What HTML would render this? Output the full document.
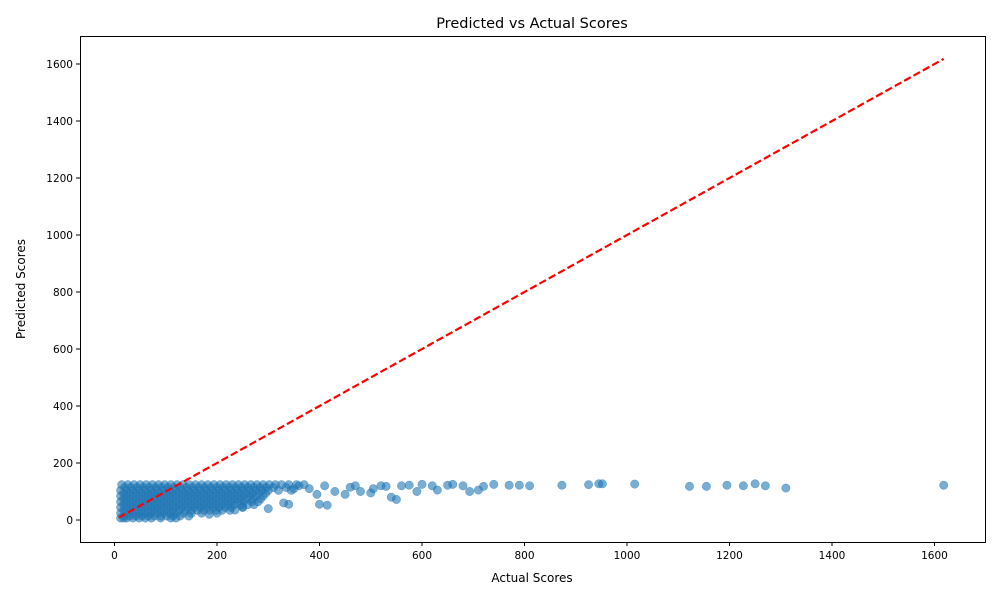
<!DOCTYPE html>
<html><head><meta charset="utf-8"><style>
body{margin:0;background:#fff;}
svg text{font-family:"DejaVu Sans","Liberation Sans",sans-serif;fill:#000;}
</style></head><body>
<svg id="chart" width="1000" height="600">
<rect x="0" y="0" width="1000" height="600" fill="#fff"/>
<text x="532" y="28" font-size="14.5" text-anchor="middle">Predicted vs Actual Scores</text>
<text x="532" y="582" font-size="12" text-anchor="middle">Actual Scores</text>
<text x="25" y="289" font-size="12" text-anchor="middle" transform="rotate(-90 25 289)">Predicted Scores</text>
<g id="ticks"></g>
<g id="points"></g>
<g id="line"></g>
<rect x="80.5" y="36.5" width="905" height="506" fill="none" stroke="#000" stroke-width="1"/>
</svg>
<script>
const xTicks=[0,200,400,600,800,1000,1200,1400,1600];
const yTicks=[0,200,400,600,800,1000,1200,1400,1600];
const rowPred=[124,114,104,94,84,74,64,54,44,34,24,14,7];
const rowActuals=[
[14,26,38,50,62,74,86,98,110,122,134,146,158,170,182,194,206,218,230,242,254,266,278,290,302,314,326,340,355,370],
[20,32,44,56,68,80,92,104,116,128,140,152,164,176,188,200,212,224,236,248,260,272,284,296,310,335],
[12,24,36,48,60,72,84,96,108,120,132,144,156,168,180,192,204,216,228,240,252,264,276,288,300,320,345],
[18,30,42,54,66,78,90,102,114,126,138,150,162,174,186,198,210,222,234,246,258,270,282,295],
[12,24,36,48,60,72,84,96,108,120,132,144,156,168,180,192,204,216,228,240,252,264,276,290],
[18,30,42,54,66,78,90,102,114,126,138,150,162,174,186,198,210,222,234,246,258,270,285],
[12,24,36,48,60,72,84,96,108,120,132,144,156,168,180,192,204,216,228,240,252,268,280],
[18,30,42,54,66,78,90,102,114,126,138,150,162,174,186,198,210,222,234,246,260,272],
[12,24,36,48,60,72,84,96,108,120,132,144,156,168,180,192,204,216,228,250],
[18,30,42,54,66,78,90,102,114,126,138,150,162,174,186,198,210,225],
[12,24,36,48,60,72,84,96,108,120,135,150,170,200],
[18,30,42,54,66,78,90,102,114,128,145],
[12,18,24,36,48,60,72,90,110,120]
];
const outActual=[380,395,400,415,430,450,470,480,500,520,540,550,560,590,600,630,650,680,693,710,720,740,770,790,810,873,925,945,952,1015,1122,1155,1195,1227,1250,1270,1310,1618,330,340,350,360,300,185,235,250,410,460,505,530,575,620,660];
const outPred=[110,90,55,52,100,90,120,100,95,120,80,72,120,100,125,105,122,120,100,105,118,125,122,122,120,122,124,127,127,126,118,118,122,120,127,120,112,122,60,55,110,120,40,20,35,45,120,115,110,118,122,120,125];
const lineStart=[8,8], lineEnd=[1618,1618];
const L=80,R=985,T=36,B=542;
const xs=v=>114.5+v*0.5125;
const ys=v=>520-v*0.285;
const NS="http://www.w3.org/2000/svg";
function mk(t,a,p){const e=document.createElementNS(NS,t);for(const k in a)e.setAttribute(k,a[k]);p.appendChild(e);return e;}
const tg=document.getElementById('ticks');
xTicks.forEach(v=>{const x=xs(v);
const l=mk('line',{x1:x,x2:x,y1:B,y2:B+4,stroke:'#000'},tg);


const t=mk('text',{x:x,y:B+17,'font-size':10.5,'text-anchor':'middle'},tg);t.textContent=v;

});
yTicks.forEach(v=>{const y=ys(v);
const l=mk('line',{x1:L-4,x2:L,y1:y,y2:y,stroke:'#000'},tg);


const t=mk('text',{x:L-7,y:y+4,'font-size':10.5,'text-anchor':'end'},tg);t.textContent=v;

});
const pg=document.getElementById('points');
function pt(a,p){const c=mk('circle',{cx:xs(a),cy:ys(p),r:4.2,fill:'#1f77b4','fill-opacity':0.6,stroke:'#1f77b4','stroke-opacity':0.6,'stroke-width':0.5},pg);

}
rowPred.forEach((p,i)=>rowActuals[i].forEach(a=>pt(a,p)));
outActual.forEach((a,i)=>pt(a,outPred[i]));
const ln=mk('line',{x1:xs(lineStart[0]),y1:ys(lineStart[1]),x2:xs(lineEnd[0]),y2:ys(lineEnd[1]),stroke:'#ff0000','stroke-width':2.2,'stroke-dasharray':'7.5,3.2'},document.getElementById('line'));


</script>
</body></html>
